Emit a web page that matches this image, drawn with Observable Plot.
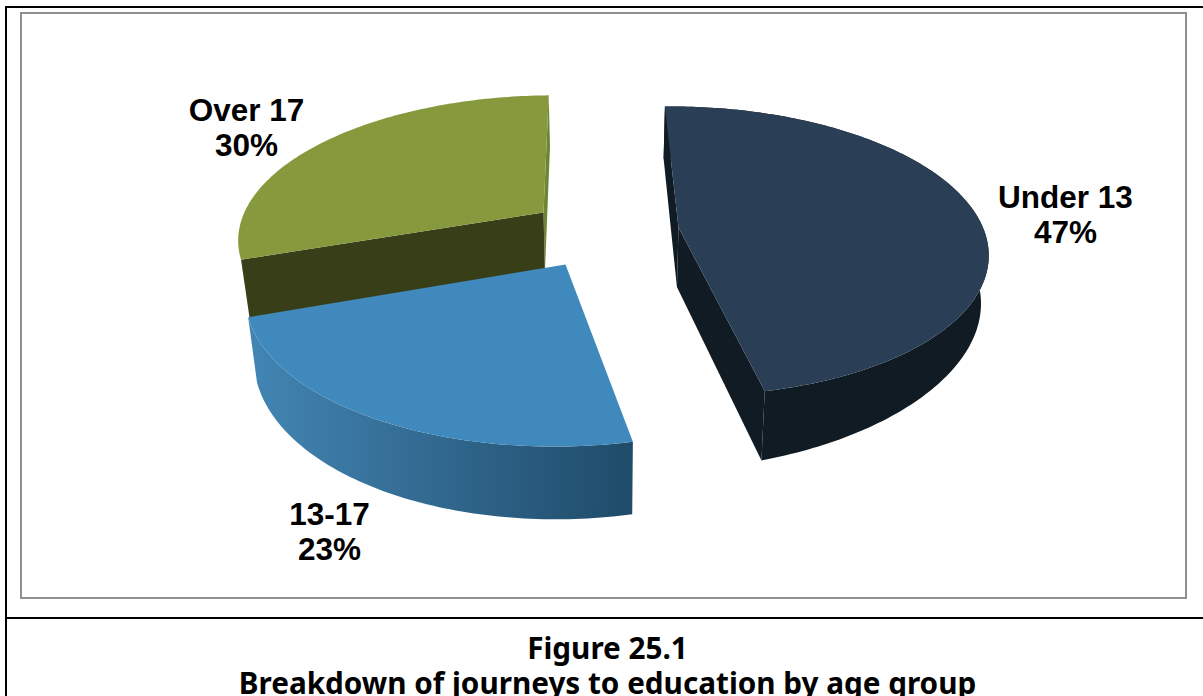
<!DOCTYPE html>
<html>
<head>
<meta charset="utf-8">
<script src="https://cdn.jsdelivr.net/npm/d3@7"></script>
<script src="https://cdn.jsdelivr.net/npm/@observablehq/plot@0.6"></script>
<style>
  html, body { margin: 0; padding: 0; width: 1203px; height: 696px; overflow: hidden; background: #fff; }
  #page { position: relative; width: 1203px; height: 696px; overflow: hidden; }
  .rule { position: absolute; background: #000; }
  #box { position: absolute; left: 20px; top: 12px; width: 1163px; height: 583px; border: 2px solid #8f8f8f; }
  #chart { position: absolute; left: 0; top: 0; }
  #caption { position: absolute; left: 6px; width: 1203px; top: 630px; text-align: center;
    font: bold 29.7px/35px "Noto Sans", Tahoma, sans-serif; color: #000; }
  svg { display: block; }
</style>
</head>
<body>
<div id="page">
  <div class="rule" style="left:5px;top:6px;width:1198px;height:2px"></div>
  <div class="rule" style="left:5px;top:6px;width:2px;height:690px"></div>
  <div class="rule" style="left:5px;top:617px;width:1198px;height:2px"></div>
  <div id="box"></div>
  <div id="chart"></div>
  <div id="caption"><div>Figure 25.1</div><div>Breakdown of journeys to education by age group</div></div>
</div>
<script>
// Data
const categories = ["Under 13", "13-17", "Over 17"];
const shares = [47, 23, 30];

// Layout of the exploded 3D pie (screen pixels)
const apexX = [678, 565, 543];
const apexY = [227, 264, 212];
const radii = [1, 0.99, 1];
const labelX = [1065, 329, 246];
const labelY = [214, 531, 127];
const topColors = ["#2a3f55", "#3f89bc", "#87993d"];
const wallColors = ["#111b23", "url(#blueWall)", "#383f18"];
const startAngle = -1.2;
const cam = {x0: 620, y0: 240, a: 309, b: 145, p: 0.165};

const project = (X, Z) => {
  const w = 1 - cam.p * Z;
  return [cam.x0 + cam.a * X / w, cam.y0 + cam.b * Z / w];
};
const unproject = (sx, sy) => {
  const Z = (sy - cam.y0) / (cam.b + cam.p * (sy - cam.y0));
  return [(sx - cam.x0) * (1 - cam.p * Z) / cam.a, Z];
};
const down = ([x, y]) => [
  x - (x > 600 ? 0.02 : 0.025) * (x - 600),
  y + 46 + 0.06 * y - 0.058 * Math.max(0, x - 760)
];
const pts = (arr) => arr.map(([x, y]) => ({x, y}));

const total = d3.sum(shares);
let acc = startAngle;
const slices = categories.map((name, i) => {
  const from = acc, to = acc + shares[i] / total * 360;
  acc = to;
  const [CX, CZ] = unproject(apexX[i], apexY[i]);
  const n = Math.ceil(to - from);
  const arc = d3.range(n + 1).map((k) => {
    const t = (from + (to - from) * k / n) * Math.PI / 180;
    return project(CX + radii[i] * Math.sin(t), CZ - radii[i] * Math.cos(t));
  });
  const apex = project(CX, CZ);
  return {name, i, apex, arc};
});

const marks = [];
const face = (arr, fill) => marks.push(Plot.line(pts(arr), {x: "x", y: "y", fill, stroke: "none"}));
const radialWall = (s, corner, fill) => face([s.apex, corner, down(corner), down(s.apex)], fill);
const outerWall = (s, fill) => face([...s.arc, ...s.arc.map(down).reverse()], fill);
const topFace = (s) => face([s.apex, ...s.arc], topColors[s.i]);

const [navy, blue, green] = slices;
// back to front
radialWall(green, green.arc[green.arc.length - 1], "#6f8434");
radialWall(green, green.arc[0], wallColors[2]);
topFace(green);
outerWall(blue, wallColors[1]);
topFace(blue);
radialWall(navy, navy.arc[0], wallColors[0]);
radialWall(navy, navy.arc[navy.arc.length - 1], wallColors[0]);
outerWall(navy, wallColors[0]);
topFace(navy);

const labels = categories.map((name, i) => ({
  text: `${name}\n${shares[i]}%`, x: labelX[i], y: labelY[i]
}));
marks.push(Plot.text(labels, {
  x: "x", y: "y", text: "text", fontSize: 31.5, fontWeight: "bold",
  fontFamily: "Liberation Sans, Arial, sans-serif", fill: "#000", lineHeight: 1.11
}));

const svg = Plot.plot({
  width: 1203, height: 696,
  margin: 0,
  style: {background: "transparent"},
  x: {domain: [0, 1203], range: [0, 1203], axis: null},
  y: {domain: [0, 696], range: [0, 696], axis: null},
  marks
});
d3.select(svg).append("defs").html(
  `<linearGradient id="blueWall" gradientUnits="userSpaceOnUse" x1="250" x2="636" y1="0" y2="0">
     <stop offset="0" stop-color="#4285b3"/><stop offset="1" stop-color="#1f4a68"/>
   </linearGradient>`);
document.getElementById("chart").appendChild(svg);
</script>
</body>
</html>
